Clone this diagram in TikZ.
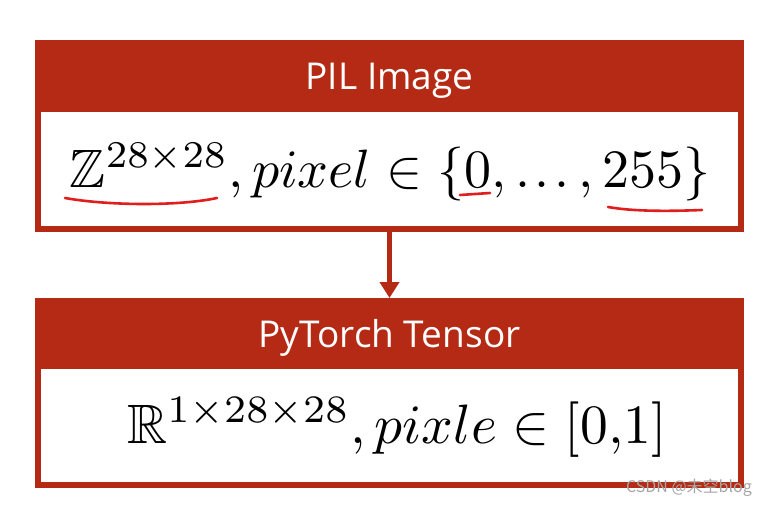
\documentclass[tikz,border=0pt]{standalone}
\usepackage{amssymb}
\usepackage{fontspec}
\newfontfamily\hdrfont{Open Sans}
\newfontfamily\cjkfont{Noto Sans CJK SC}
\usetikzlibrary{arrows.meta}
\definecolor{boxred}{RGB}{180,42,20}
\definecolor{penred}{RGB}{225,30,30}
\tikzset{
  outerbox/.style={fill=boxred, draw=none, minimum width=709pt, inner sep=0pt, outer sep=0pt},
  innerbox/.style={fill=white, draw=none, minimum width=697pt, inner sep=0pt, outer sep=0pt},
  hdrtext/.style={text=white, font=\hdrfont\fontsize{37}{44}\selectfont, anchor=base, inner sep=0pt},
  mathtext/.style={text=black, anchor=base, inner sep=0pt},
  pen/.style={draw=penred, line width=2.6pt, line cap=round},
  conn/.style={draw=boxred, line width=5.5pt, -{Triangle[width=19pt,length=16pt]}},
}
\begin{document}
\begin{tikzpicture}[x=1pt,y=-1pt]
\useasboundingbox (0,0) rectangle (767,505);
\fill[white] (0,0) rectangle (767,505);
% box 1
\node[outerbox, minimum height=192pt] (pil) at (389.5,136) {};
\node[innerbox, minimum height=114pt] (pilbody) at (389.5,169) {};
\node[hdrtext] (piltitle) at (389.5,90) {PIL Image};
\node[mathtext] (pilmath) at (390,187) {\scalebox{5.4}{$\mathbb{Z}^{28\times28}, pixel \in \{0, \mathinner{.\mkern1.5mu.\mkern1.5mu.}, 255\}$}};
% box 2
\node[outerbox, minimum height=190pt] (tensor) at (389.5,393) {};
\node[innerbox, minimum height=113pt] (tensorbody) at (389.5,425.5) {};
\node[hdrtext] (tensortitle) at (389.5,347) {PyTorch Tensor};
\node[mathtext] (tensormath) at (397,443) {\scalebox{5.55}{$\mathbb{R}^{1\times28\times28}, pixle \in [0{,}1]$}};
% arrow
\draw[conn] (pil.south -| 389.5,0) -- (tensor.north -| 389.5,0);
% pen underlines
\draw[pen] (65,198) .. controls (110,206) and (180,206) .. (217,198);
\draw[pen] (460,195) -- (490,193);
\draw[pen] (608,207) .. controls (636,212) and (676,211) .. (702,210);
% watermark
\node[text=gray!70, font=\cjkfont\fontsize{16}{18}\selectfont, anchor=base east, inner sep=0pt] (wm) at (752,492) {CSDN @未空blog};
\end{tikzpicture}
\end{document}
